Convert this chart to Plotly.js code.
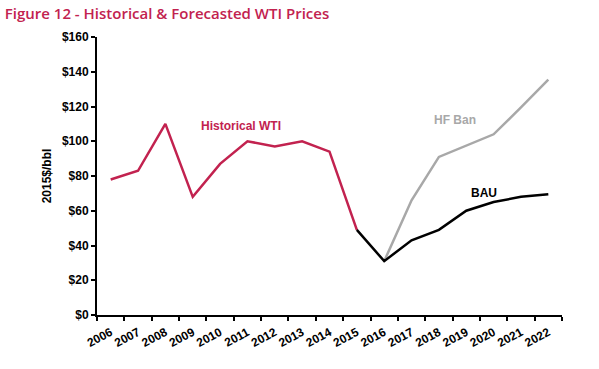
<!DOCTYPE html>
<html>
<head>
<meta charset="utf-8">
<script src="https://cdn.plot.ly/plotly-3.0.1.min.js"></script>
<style>html,body{margin:0;padding:0;background:#fff;}#chart{width:599px;height:369px;}</style>
</head>
<body>
<div id="chart"></div>
<script>
var years = ["2006","2007","2008","2009","2010","2011","2012","2013","2014","2015","2016","2017","2018","2019","2020","2021","2022"];
var histYears = ["2006","2007","2008","2009","2010","2011","2012","2013","2014","2015"];
var histValues = [78, 83, 110, 68, 87, 100, 97, 100, 94, 49];
var bauYears = ["2015","2016","2017","2018","2019","2020","2021","2022"];
var bauValues = [49, 31, 43, 49, 60, 65, 68, 69.5];
var hfYears = ["2016","2017","2018","2019","2020","2021","2022"];
var hfValues = [31, 66, 91, 97.5, 104, 119.5, 135.5];
var yTicks = [0, 20, 40, 60, 80, 100, 120, 140, 160];
var yTickText = ["$0","$20","$40","$60","$80","$100","$120","$140","$160"];

var crimson = "#c2224f";
var grey = "#a8a8a8";

var traces = [
  {x: hfYears, y: hfValues, type: "scatter", mode: "lines", line: {color: grey, width: 2.5}, hoverinfo: "skip"},
  {x: histYears, y: histValues, type: "scatter", mode: "lines", line: {color: crimson, width: 2.5}, hoverinfo: "skip"},
  {x: bauYears, y: bauValues, type: "scatter", mode: "lines", line: {color: "#000000", width: 2.5}, hoverinfo: "skip"}
];

var bold = "Liberation Sans, Arial, sans-serif";

var layout = {
  width: 599, height: 369,
  margin: {l: 97, r: 37, t: 37, b: 54},
  paper_bgcolor: "#ffffff", plot_bgcolor: "#ffffff",
  showlegend: false,
  font: {family: bold, color: "#000"},
  title: {text: "Figure 12 - Historical & Forecasted WTI Prices", x: 0.008, xanchor: "left", y: 0.963, yanchor: "middle",
          font: {family: "Open Sans, sans-serif", size: 15, color: crimson, weight: 600}},
  xaxis: {
    type: "category", categoryorder: "array", categoryarray: years,
    range: [-0.5, 16.5], tickson: "boundaries",
    showline: true, linecolor: "#000", linewidth: 2,
    ticks: "outside", ticklen: 4, tickwidth: 2, tickcolor: "#000",
    showgrid: false, zeroline: false, tickangle: -28, automargin: false,
    ticklabelstandoff: 4,
    tickfont: {family: bold, size: 12, color: "#000", weight: "bold"}
  },
  yaxis: {
    range: [0, 160], tickvals: yTicks, ticktext: yTickText,
    showline: true, linecolor: "#000", linewidth: 2,
    ticks: "outside", ticklen: 4, tickwidth: 2, tickcolor: "#000",
    showgrid: false, zeroline: false,
    tickfont: {family: bold, size: 12, color: "#000", weight: "bold"},
    title: {text: "2015$/bbl", standoff: 8, font: {family: bold, size: 12, color: "#000", weight: "bold"}}
  },
  annotations: [
    {x: 4.75, y: 109, xref: "x", yref: "y", text: "<b>Historical WTI</b>", showarrow: false, xanchor: "center", yanchor: "middle",
     font: {family: bold, size: 12, color: crimson}},
    {x: 12.58, y: 112, xref: "x", yref: "y", text: "<b>HF Ban</b>", showarrow: false, xanchor: "center", yanchor: "middle",
     font: {family: bold, size: 12, color: grey}},
    {x: 13.64, y: 70, xref: "x", yref: "y", text: "<b>BAU</b>", showarrow: false, xanchor: "center", yanchor: "middle",
     font: {family: bold, size: 12, color: "#000"}}
  ]
};

Plotly.newPlot("chart", traces, layout, {displayModeBar: false, staticPlot: true});
</script>
</body>
</html>
